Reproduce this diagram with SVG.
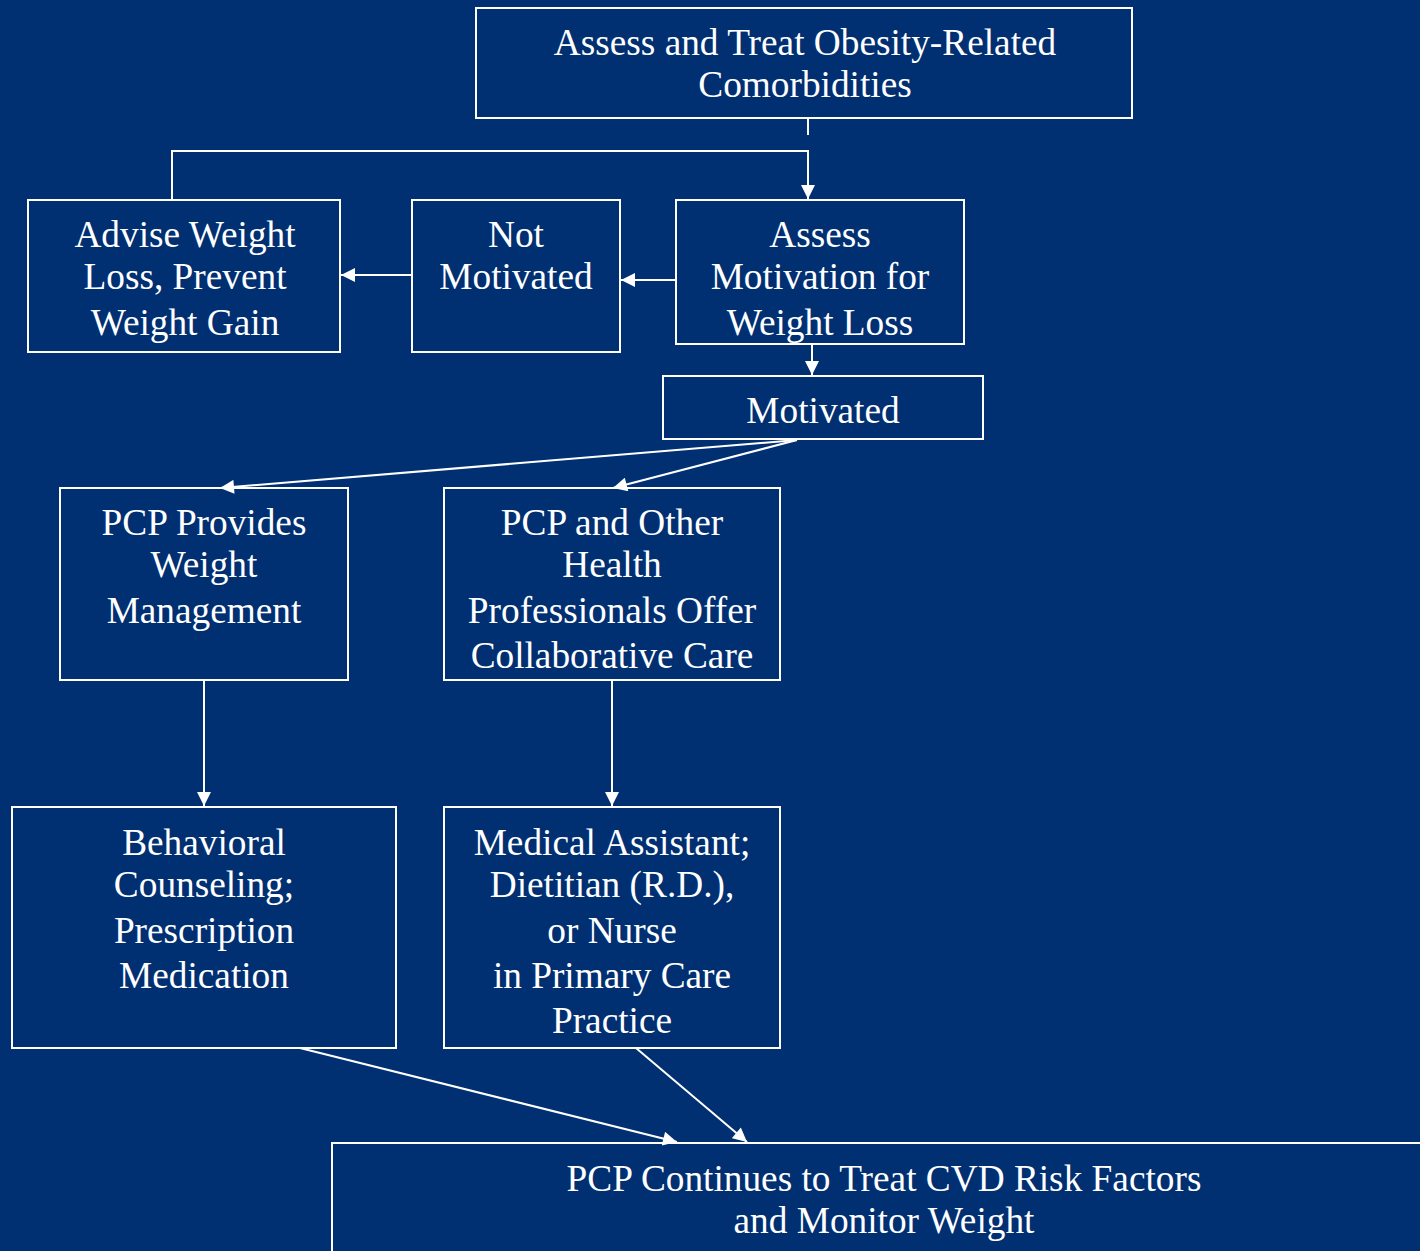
<svg xmlns="http://www.w3.org/2000/svg" width="1420" height="1251" viewBox="0 0 1420 1251">
<defs>
<style>
.box{fill:none;stroke:#ffffff;stroke-width:2}
.t{font-family:"Liberation Serif","Times New Roman",serif;font-size:37.3px;fill:#ffffff;text-anchor:middle}
.c{stroke:#ffffff;stroke-width:2;fill:none}
</style>
<marker id="ah" viewBox="0 0 10 10" refX="10" refY="5" markerWidth="15" markerHeight="14" markerUnits="userSpaceOnUse" orient="auto">
<path d="M0,0 L10,5 L0,10 z" fill="#ffffff"/>
</marker>
</defs>
<rect x="0" y="0" width="1420" height="1251" fill="#002f72"/>
<g id="connectors">
<line class="c" x1="808" y1="119" x2="808" y2="135"/>
<polyline class="c" points="172,200 172,151 808,151 808,199" marker-end="url(#ah)"/>
<line class="c" x1="412" y1="275" x2="341" y2="275" marker-end="url(#ah)"/>
<line class="c" x1="676" y1="280" x2="621" y2="280" marker-end="url(#ah)"/>
<line class="c" x1="812" y1="345" x2="812" y2="375" marker-end="url(#ah)"/>
<line class="c" x1="797" y1="440" x2="220" y2="488" marker-end="url(#ah)"/>
<line class="c" x1="797" y1="440" x2="613" y2="488" marker-end="url(#ah)"/>
<line class="c" x1="204" y1="681" x2="204" y2="806" marker-end="url(#ah)"/>
<line class="c" x1="612" y1="681" x2="612" y2="806" marker-end="url(#ah)"/>
<line class="c" x1="300" y1="1048" x2="677" y2="1142" marker-end="url(#ah)"/>
<line class="c" x1="636" y1="1048" x2="747" y2="1142" marker-end="url(#ah)"/>
</g>
<g id="n-top">
<rect class="box" x="476" y="8" width="656" height="110"/>
<text class="t" x="805" y="55">Assess and Treat Obesity-Related</text>
<text class="t" x="805" y="97">Comorbidities</text>
</g>
<g id="n-advise">
<rect class="box" x="28" y="200" width="312" height="152"/>
<text class="t" x="185" y="247">Advise Weight</text>
<text class="t" x="185" y="289">Loss, Prevent</text>
<text class="t" x="185" y="335">Weight Gain</text>
</g>
<g id="n-not">
<rect class="box" x="412" y="200" width="208" height="152"/>
<text class="t" x="516" y="247">Not</text>
<text class="t" x="516" y="289">Motivated</text>
</g>
<g id="n-assess">
<rect class="box" x="676" y="200" width="288" height="144"/>
<text class="t" x="820" y="247">Assess</text>
<text class="t" x="820" y="289">Motivation for</text>
<text class="t" x="820" y="335">Weight Loss</text>
</g>
<g id="n-motivated">
<rect class="box" x="663" y="376" width="320" height="63"/>
<text class="t" x="823" y="423">Motivated</text>
</g>
<g id="n-pcp">
<rect class="box" x="60" y="488" width="288" height="192"/>
<text class="t" x="204" y="535">PCP Provides</text>
<text class="t" x="204" y="577">Weight</text>
<text class="t" x="204" y="623">Management</text>
</g>
<g id="n-collab">
<rect class="box" x="444" y="488" width="336" height="192"/>
<text class="t" x="612" y="535">PCP and Other</text>
<text class="t" x="612" y="577">Health</text>
<text class="t" x="612" y="623">Professionals Offer</text>
<text class="t" x="612" y="668">Collaborative Care</text>
</g>
<g id="n-behav">
<rect class="box" x="12" y="807" width="384" height="241"/>
<text class="t" x="204" y="855">Behavioral</text>
<text class="t" x="204" y="897">Counseling;</text>
<text class="t" x="204" y="943">Prescription</text>
<text class="t" x="204" y="988">Medication</text>
</g>
<g id="n-medical">
<rect class="box" x="444" y="807" width="336" height="241"/>
<text class="t" x="612" y="855">Medical Assistant;</text>
<text class="t" x="612" y="897">Dietitian (R.D.),</text>
<text class="t" x="612" y="943">or Nurse</text>
<text class="t" x="612" y="988">in Primary Care</text>
<text class="t" x="612" y="1033">Practice</text>
</g>
<g id="n-bottom">
<rect class="box" x="332" y="1143" width="1200" height="200"/>
<text class="t" x="884" y="1191">PCP Continues to Treat CVD Risk Factors</text>
<text class="t" x="884" y="1233">and Monitor Weight</text>
</g>
</svg>
